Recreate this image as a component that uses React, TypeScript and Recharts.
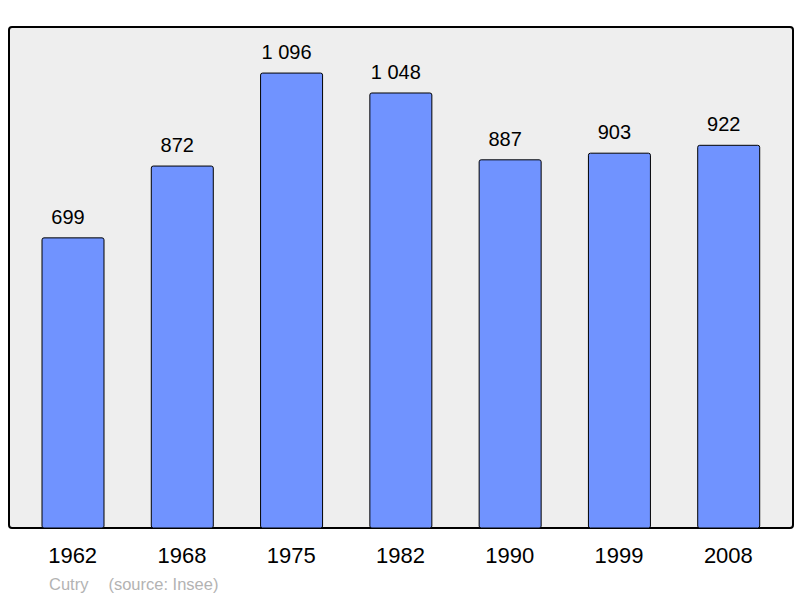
import React from 'react';
import { BarChart, Bar, XAxis, YAxis, CartesianGrid, LabelList, ReferenceArea } from 'recharts';

const years = ['1962', '1968', '1975', '1982', '1990', '1999', '2008'];
const population = [699, 872, 1096, 1048, 887, 903, 922];

const data = years.map((year, i) => ({ year, value: population[i] }));

const FONT = '"Liberation Sans", Arial, sans-serif';
const PAD_LEFT = 9;
const PAD_RIGHT = 10;

// "1096" -> "1 096"
const formatValue = (v: any) => String(v).replace(/\B(?=(\d{3})+(?!\d))/g, ' ');

// reference area only spans the padded band range, so widen it back to the plot edges
const Frame = (props: any) => {
  const { x, y, width, height } = props;
  return (
    <rect
      x={x - PAD_LEFT}
      y={y}
      width={width + PAD_LEFT + PAD_RIGHT}
      height={height}
      rx={3}
      ry={3}
      fill="none"
      stroke="#000"
      strokeWidth={2}
    />
  );
};

export default function App() {
  return (
    <div style={{ position: 'absolute', left: 0, top: 0, width: 800, height: 598, background: '#fff', fontFamily: FONT }}>
      <BarChart width={800} height={598} data={data} margin={{ top: 27, right: 7, bottom: 30, left: 9 }}>
        <CartesianGrid horizontal={false} vertical={false} fill="#eeeeee" />
        <XAxis
          dataKey="year"
          height={40}
          axisLine={false}
          tickLine={false}
          tickSize={0}
          tickMargin={19}
          padding={{ left: PAD_LEFT, right: PAD_RIGHT }}
          tick={{ fill: '#000', fontSize: 22, fontFamily: FONT }}
          interval={0}
        />
        <YAxis hide domain={[0, 1207]} />
        <Bar dataKey="value" fill="#7093ff" stroke="#000" strokeWidth={1} barSize={62} radius={2} isAnimationActive={false}>
          <LabelList dataKey="value" position="top" offset={14} dx={-5} formatter={formatValue} fill="#000" fontSize={20} fontFamily={FONT} />
        </Bar>
        <ReferenceArea y1={0} y2={1207} shape={Frame} ifOverflow="visible" />
      </BarChart>
      <div style={{ position: 'absolute', left: 49, top: 575, fontSize: 16.5, color: '#b3b3b3', whiteSpace: 'pre' }}>
        Cutry<span style={{ marginLeft: 20 }}>(source: Insee)</span>
      </div>
    </div>
  );
}
